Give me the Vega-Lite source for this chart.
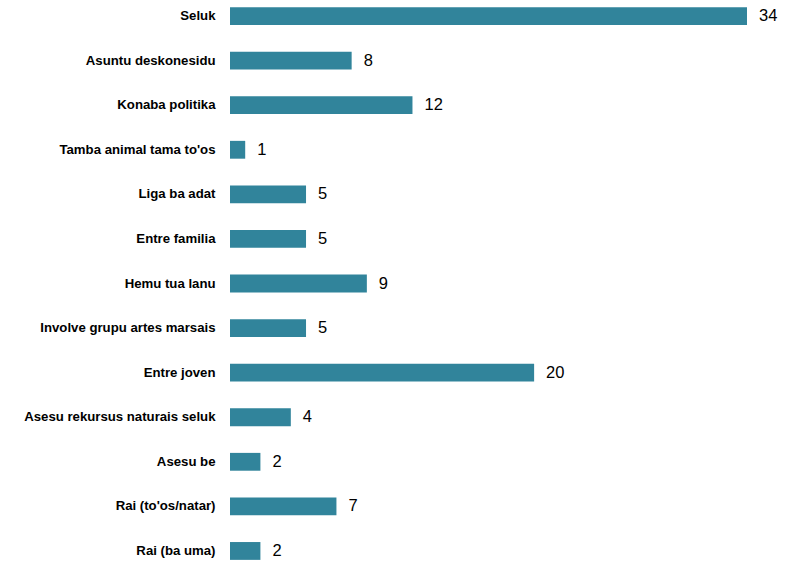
{
  "$schema": "https://vega.github.io/schema/vega-lite/v6.json",
  "width": 517,
  "height": 567,
  "autosize": {"type": "none"},
  "padding": {"left": 230, "top": 0, "right": 47, "bottom": 0},
  "background": "white",
  "config": {"view": {"stroke": null}, "font": "Liberation Sans"},
  "data": {"values": [
    {"cat": "Seluk", "v": 34},
    {"cat": "Asuntu deskonesidu", "v": 8},
    {"cat": "Konaba politika", "v": 12},
    {"cat": "Tamba animal tama to'os", "v": 1},
    {"cat": "Liga ba adat", "v": 5},
    {"cat": "Entre familia", "v": 5},
    {"cat": "Hemu tua lanu", "v": 9},
    {"cat": "Involve grupu artes marsais", "v": 5},
    {"cat": "Entre joven", "v": 20},
    {"cat": "Asesu rekursus naturais seluk", "v": 4},
    {"cat": "Asesu be", "v": 2},
    {"cat": "Rai (to'os/natar)", "v": 7},
    {"cat": "Rai (ba uma)", "v": 2}
  ]},
  "encoding": {
    "y": {"field": "cat", "type": "nominal", "sort": null,
      "scale": {"paddingInner": 0.6, "paddingOuter": 0.16},
      "axis": {"title": null, "domain": false, "ticks": false, "labelPadding": 15, "labelLimit": 400,
        "labelFontWeight": "bold", "labelFontSize": 13.2, "labelColor": "#000000", "labelFont": "Liberation Sans"}},
    "x": {"field": "v", "type": "quantitative", "scale": {"domain": [0, 34], "nice": false},
      "axis": null}
  },
  "layer": [
    {"mark": {"type": "bar", "color": "#31849B"}},
    {"mark": {"type": "text", "align": "left", "dx": 12, "fontSize": 16.5, "color": "#000000", "font": "Liberation Sans"},
      "encoding": {"text": {"field": "v", "type": "quantitative"}}}
  ]
}
